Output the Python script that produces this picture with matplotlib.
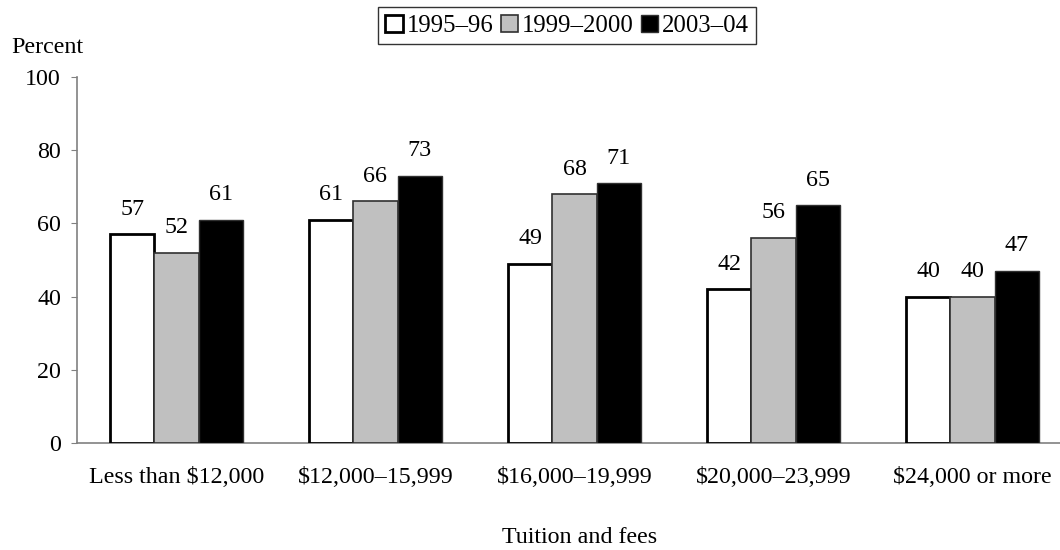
import matplotlib
matplotlib.use("Agg")
import matplotlib.pyplot as plt
import numpy as np

categories = ["Less than $12,000", "$12,000\u201315,999", "$16,000\u201319,999",
              "$20,000\u201323,999", "$24,000 or more"]
series_names = ["1995\u201396", "1999\u20132000", "2003\u201304"]
values_1995 = [57, 61, 49, 42, 40]
values_1999 = [52, 66, 68, 56, 40]
values_2003 = [61, 73, 71, 65, 47]
y_ticks = [0, 20, 40, 60, 80, 100]

plt.rcParams["font.family"] = ["Liberation Serif", "DejaVu Serif"]
FS = 17.3

fig = plt.figure(figsize=(10.6, 5.5), dpi=100)
ax = fig.add_axes([0.0726, 0.1945, 0.9274, 0.6655])

x = np.arange(len(categories))
w = 0.222
styles = [
    dict(facecolor="white", edgecolor="black", linewidth=2.0),
    dict(facecolor="#c0c0c0", edgecolor="#303030", linewidth=1.2),
    dict(facecolor="black", edgecolor="#303030", linewidth=1.0),
]
all_vals = [values_1995, values_1999, values_2003]
handles = []
for i, (vals, st) in enumerate(zip(all_vals, styles)):
    bars = ax.bar(x + (i - 1) * w, vals, width=w, label=series_names[i], zorder=3, **st)
    handles.append(bars)
    for b, v in zip(bars, vals):
        ax.annotate(f"{v}", (b.get_x() + b.get_width() / 2, v),
                    xytext=(0, 10.5), textcoords="offset points",
                    ha="center", va="bottom", fontsize=FS)

ax.set_xlim(-0.5, 4.44)
ax.set_ylim(0, 100)
ax.set_yticks(y_ticks)
ax.set_xticks(x)
ax.set_xticklabels(categories)
ax.tick_params(axis="x", length=0, pad=17, labelsize=FS)
ax.tick_params(axis="y", direction="out", length=4.5, color="#808080", pad=7,
               labelsize=FS)
for s in ["top", "right"]:
    ax.spines[s].set_visible(False)
for s in ["left", "bottom"]:
    ax.spines[s].set_color("#808080")
    ax.spines[s].set_linewidth(1.2)

fig.text(0.011, 0.9145, "Percent", ha="left", va="center", fontsize=FS)
fig.text(0.547, 0.022, "Tuition and fees", ha="center", va="center", fontsize=FS)

leg = fig.legend(handles=handles, labels=series_names, loc="center",
                 bbox_to_anchor=(0.535, 0.953), ncol=3, frameon=True,
                 fancybox=False, edgecolor="black", handlelength=0.7,
                 handleheight=0.7, handletextpad=0.15, columnspacing=0.3,
                 borderpad=0.3, borderaxespad=0, fontsize=17.8)
leg.get_frame().set_linewidth(1.0)

fig.savefig("out.png", dpi=100)
